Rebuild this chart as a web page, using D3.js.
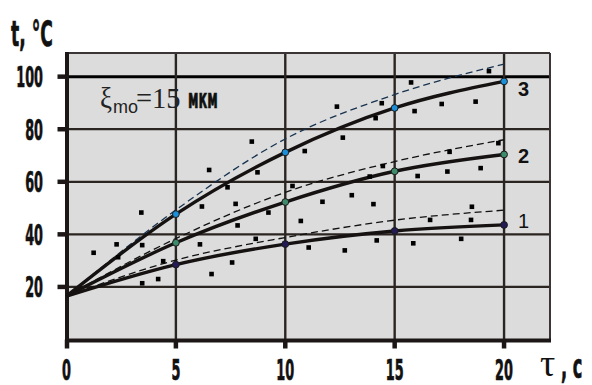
<!DOCTYPE html>
<html>
<head>
<meta charset="utf-8">
<script src="https://cdn.jsdelivr.net/npm/d3@7"></script>
<style>
	body { margin: 0; background: #fff; }
	svg { display: block; }
</style>
</head>
<body>
<div id="chart"></div>
<script>
// axis ticks
var tauTicks = [0, 5, 10, 15, 20];
var tempTicks = [20, 40, 60, 80, 100];

// fitted curves (solid) and upper bounds (dashed), tau = 0..20 s
var fitNames = ["1", "2", "3"];
var fitTau = [0, 5, 10, 15, 20];
var fitSolid1 = [16.5, 28.5, 36.3, 41.3, 43.6];
var fitSolid2 = [16.5, 36.8, 52.3, 64.0, 70.4];
var fitSolid3 = [16.5, 47.7, 71.2, 88.1, 98.2];
var fitDash1 = [16.5, 30.2, 38.8, 45.4, 49.2];
var fitDash2 = [16.5, 38.4, 56.0, 67.7, 76.0];
var fitDash3 = [16.5, 49.3, 76.3, 93.2, 104.8];

// measured points
var pointTau = [1.24, 2.29, 2.36, 3.42, 3.46, 3.46, 4.19, 4.42, 6.10, 6.19,
	6.52, 6.63, 7.36, 7.57, 7.73, 7.82, 8.47, 8.65, 8.73, 9.23,
	10.33, 10.71, 10.89, 11.07, 11.70, 12.36, 12.63, 12.72, 13.04, 13.86,
	14.03, 14.13, 14.18, 14.41, 14.46, 15.75, 15.85, 15.91, 16.05, 16.62,
	17.15, 17.41, 17.51, 18.04, 18.49, 18.53, 18.70, 18.93, 19.31, 19.74];
var pointTemp = [33.0, 36.2, 31.3, 48.3, 35.9, 21.4, 23.0, 29.8, 36.2, 50.6,
	64.5, 24.9, 57.9, 29.3, 51.6, 43.4, 75.3, 38.3, 63.6, 48.3,
	58.4, 45.1, 71.7, 35.0, 52.4, 88.6, 76.8, 33.9, 54.9, 62.0,
	51.5, 84.2, 37.7, 89.9, 66.0, 97.8, 36.6, 86.9, 62.2, 45.5,
	89.6, 63.9, 71.4, 38.3, 45.5, 50.5, 90.5, 65.2, 102.1, 74.7];

var drawChart = function() {
	var width = 592,
		height = 385,
		left = 66.5, right = 550,
		top = 53, bottom = 339.5,
		gridColor = "#2b2522",
		solids = [fitSolid1, fitSolid2, fitSolid3],
		dashes = [fitDash1, fitDash2, fitDash3],
		markColors = ["#241a55", "#3d8b6b", "#1b8fd8"],
		dashColors = ["#111", "#111", "#16324f"],
		labelShift = [-4, 1.5, 8],
		labelWeight = ["normal", "bold", "bold"],
		i;

	var x = d3.scaleLinear().domain([0, 22.1]).range([left, right]);
	var y = d3.scaleLinear().domain([0, 109]).range([bottom, top]);

	var svg = d3.select("#chart")
		.append("svg")
		.attr("width", width)
		.attr("height", height);

	// narrow heavy lettering of the original
	function condText(str, px, py, size, anchor, sx) {
		return svg.append("g")
			.attr("transform", "translate(" + px + "," + py + ")")
			.append("text")
			.attr("transform", "scale(" + (sx || 0.53) + ",1)")
			.attr("text-anchor", anchor || "start")
			.style("font-family", "'DejaVu Sans Condensed', 'DejaVu Sans', sans-serif")
			.style("font-weight", "bold")
			.style("font-size", size + "px")
			.attr("fill", "#111")
			.attr("stroke", "#111")
			.attr("stroke-width", 0.7)
			.text(str);
	}

	svg.append("rect")
		.attr("x", left)
		.attr("y", top)
		.attr("width", right - left)
		.attr("height", bottom - top)
		.attr("fill", "#dcdcdc");

	// grid
	svg.append("g")
		.selectAll("line")
		.data(tempTicks)
		.join("line")
		.attr("x1", left)
		.attr("x2", right)
		.attr("y1", function (d) { return y(d); })
		.attr("y2", function (d) { return y(d); })
		.attr("stroke", function (d) { return d == 100 ? "#000" : gridColor; })
		.attr("stroke-width", function (d) { return d == 100 ? 3 : 2.2; });

	svg.append("g")
		.selectAll("line")
		.data(tauTicks.slice(1))
		.join("line")
		.attr("x1", function (d) { return x(d); })
		.attr("x2", function (d) { return x(d); })
		.attr("y1", top)
		.attr("y2", bottom)
		.attr("stroke", gridColor)
		.attr("stroke-width", 2.4);

	// frame
	svg.append("line").attr("x1", left).attr("x2", right).attr("y1", top).attr("y2", top)
		.attr("stroke", "#3a3434").attr("stroke-width", 2);
	svg.append("line").attr("x1", right).attr("x2", right).attr("y1", top).attr("y2", bottom)
		.attr("stroke", "#3a3434").attr("stroke-width", 2);
	svg.append("line").attr("x1", left - 1).attr("x2", right + 1).attr("y1", bottom + 1).attr("y2", bottom + 1)
		.attr("stroke", "#1c1616").attr("stroke-width", 4);
	svg.append("line").attr("x1", left + 0.5).attr("x2", left + 0.5).attr("y1", top - 1).attr("y2", bottom + 3)
		.attr("stroke", "#1c1616").attr("stroke-width", 4);

	// tick stubs
	svg.append("g")
		.selectAll("line")
		.data(tempTicks)
		.join("line")
		.attr("x1", left - 9)
		.attr("x2", left)
		.attr("y1", function (d) { return y(d); })
		.attr("y2", function (d) { return y(d); })
		.attr("stroke", "#1c1616")
		.attr("stroke-width", 4.5);

	svg.append("g")
		.selectAll("line")
		.data(tauTicks)
		.join("line")
		.attr("x1", function (d) { return x(d) + (d == 0 ? 0.5 : 0); })
		.attr("x2", function (d) { return x(d) + (d == 0 ? 0.5 : 0); })
		.attr("y1", bottom)
		.attr("y2", bottom + 9)
		.attr("stroke", "#1c1616")
		.attr("stroke-width", 4.5);

	// tick labels
	tempTicks.forEach(function (d) {
		condText(String(d), 43, y(d) + 10.5, 29, "end", 0.49);
	});
	tauTicks.forEach(function (d) {
		condText(String(d), x(d), 379.5, 28, "middle", 0.51);
	});

	// axis titles
	condText("t, \u00b0C", 11, 46, 36, "start");
	svg.append("text")
		.attr("x", 540)
		.attr("y", 376)
		.style("font-family", "'Liberation Serif', serif")
		.style("font-size", "38px")
		.attr("fill", "#111")
		.text("\u03c4");
	condText(", c", 561, 378, 34, "start");

	// curves
	var line = d3.line()
		.x(function (d, k) { return x(fitTau[k]); })
		.y(function (d) { return y(d); })
		.curve(d3.curveMonotoneX);

	svg.append("g")
		.selectAll("path")
		.data(dashes)
		.join("path")
		.attr("d", line)
		.attr("fill", "none")
		.attr("stroke", function (d, k) { return dashColors[k]; })
		.attr("stroke-width", 1.3)
		.attr("stroke-dasharray", "7,4");

	svg.append("g")
		.selectAll("path")
		.data(solids)
		.join("path")
		.attr("d", line)
		.attr("fill", "none")
		.attr("stroke", "#161212")
		.attr("stroke-width", 3.4);

	// measured points
	svg.append("g")
		.selectAll("rect")
		.data(pointTau)
		.join("rect")
		.attr("x", function (d) { return x(d) - 2.3; })
		.attr("y", function (d, k) { return y(pointTemp[k]) - 2.3; })
		.attr("width", 4.6)
		.attr("height", 4.6)
		.attr("fill", "#000");

	// curve markers and numbers
	for (i = 0; i < solids.length; i++)
	{
		svg.append("g")
			.selectAll("circle")
			.data(solids[i].slice(1))
			.join("circle")
			.attr("cx", function (d, k) { return x(fitTau[k + 1]); })
			.attr("cy", function (d) { return y(d); })
			.attr("r", 3.4)
			.attr("fill", markColors[i])
			.attr("stroke", "#1a1a1a")
			.attr("stroke-width", 1);

		svg.append("text")
			.attr("x", x(20) + 14)
			.attr("y", y(solids[i][4]) + labelShift[i] + 7)
			.style("font-family", "'Liberation Sans', Arial, sans-serif")
			.style("font-weight", labelWeight[i])
			.style("font-size", "20px")
			.attr("fill", "#111")
			.text(fitNames[i]);
	}

	// annotation
	var note = svg.append("g")
		.attr("transform", "translate(100,108)");
	note.append("text")
		.attr("transform", "scale(0.9,1)")
		.style("font-family", "'Liberation Serif', serif")
		.style("font-size", "30px")
		.attr("fill", "#222")
		.text("\u03be");
	note.append("text")
		.attr("x", 13)
		.attr("y", 5)
		.style("font-family", "'Liberation Sans', Arial, sans-serif")
		.style("font-size", "18px")
		.attr("fill", "#222")
		.text("mo");
	note.append("text")
		.attr("transform", "translate(36,0) scale(0.95,1)")
		.style("font-family", "'Liberation Serif', serif")
		.style("font-size", "30px")
		.attr("fill", "#222")
		.text("=15");
	condText("\u043c\u043a\u043c", 188, 108, 27, "start");
};

drawChart();
</script>
</body>
</html>
